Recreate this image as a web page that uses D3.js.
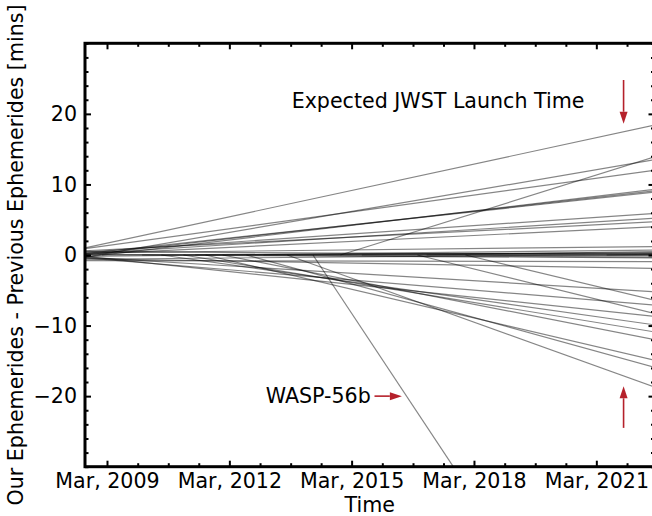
<!DOCTYPE html>
<html>
<head>
<meta charset="utf-8">
<script src="https://cdn.jsdelivr.net/npm/d3@7"></script>
<style>
  html, body { margin: 0; padding: 0; background: #fff; }
  svg { display: block; font-family: "DejaVu Sans", sans-serif; }
</style>
</head>
<body>
<svg id="chart" width="652" height="516"></svg>
<script>
// Time span shown and offset range (minutes)
const xDomain = ["2008-08-16", "2022-08-04"];
const yDomain = [-30, 30];
const endDate = "2022-08-04";

// Each ephemeris comparison: date it starts, offset at start, offset at endDate (mins)
const startDates = [
  "2008-08-16", "2008-08-16", "2008-08-16", "2008-08-16", "2008-08-16",
  "2008-08-16", "2008-08-16", "2008-08-16", "2008-08-16", "2008-08-16",
  "2008-08-16", "2008-08-16", "2008-08-16", "2008-08-16", "2008-08-16",
  "2008-08-16", "2008-08-16", "2008-08-16", "2008-08-16", "2008-08-16",
  "2014-11-20", "2014-03-20", "2016-10-10", "2017-12-15", "2010-07-01",
  "2011-01-15", "2011-08-01", "2012-01-01", "2012-08-01", "2013-08-01",
  "2009-01-15", "2010-01-10", "2011-05-01", "2013-01-01", "2015-06-01",
  "2017-01-01", "2021-06-01"
];
const startMins = [
  1.0, 0.9, -0.3, -0.3, 0.0,
  0.2, 0.4, 0.2, 0.6, 0.1,
  0.3, -0.2, 0.5, 0.1, -0.8,
  -0.5, -0.3, -0.4, -0.2, -0.6,
  0, 0, 0, 0, 0,
  0, 0, 0, 0, 0,
  0, 0, 0, 0, 0,
  0, 0
];
const endMins = [
  18.4, 12.0, 13.5, 9.3, 9.1,
  8.9, 5.9, 5.2, 4.7, 4.0,
  1.2, 0.7, 0.0, -0.3, -0.95,
  -1.9, -5.2, -7.1, -8.7, 0.1,
  13.9, -73, -8.3, -6.4, -9.9,
  -10.9, -14.9, -12.0, -15.9, -18.7,
  0.3, -0.4, 0.2, 0.3, -0.1,
  0.5, 0.1
];

// Axis ticks
const majorTickDates = ["2009-03-01", "2012-03-01", "2015-03-01", "2018-03-01", "2021-03-01"];
const majorTickMins = [-20, -10, 0, 10, 20];
const xLabel = "Time";
const yLabel = "Our Ephemerides - Previous Ephemerides [mins]";

// Annotations
const launchDate = "2021-10-31";
const launchLabel = "Expected JWST Launch Time";
const launchLabelDate = "2013-09-10";
const launchLabelMins = 21.9;
const launchArrowTop = [24.8, 18.6];      // from, to
const launchArrowBottom = [-24.5, -18.6]; // from, to
const waspLabel = "WASP-56b";
const waspLabelDate = "2015-08-20";
const waspArrowDates = ["2015-09-22", "2016-05-24"];
const waspMins = -20;

const parse = d3.timeParse("%Y-%m-%d");
const W = 652, H = 516;
const margin = { left: 85, right: -2.5, top: 43.3, bottom: 49.3 };
const svg = d3.select("#chart");
const fs = 20.6;

const x = d3.scaleTime()
  .domain(xDomain.map(parse))
  .range([margin.left, W - margin.right]);
const y = d3.scaleLinear()
  .domain(yDomain)
  .range([H - margin.bottom, margin.top]);

const red = "#b5212b";
const x0 = x.range()[0], x1 = x.range()[1];
const y0 = y.range()[1], y1 = y.range()[0];

svg.append("defs").append("clipPath").attr("id", "plotclip")
  .append("rect").attr("x", x0).attr("y", y0).attr("width", x1 - x0).attr("height", y1 - y0);

// Ephemeris difference lines
const lines = startDates.map((d, i) => [
  [parse(d), startMins[i]],
  [parse(endDate), endMins[i]]
]);
const lineGen = d3.line().x(d => x(d[0])).y(d => y(d[1]));
svg.append("g").attr("clip-path", "url(#plotclip)")
  .selectAll("path").data(lines).join("path")
  .attr("d", lineGen)
  .attr("fill", "none")
  .attr("stroke", "#000")
  .attr("stroke-opacity", 0.48)
  .attr("stroke-width", 1.2);

// Minor tick positions: every 9 months between the 3-year majors
const majors = majorTickDates.map(parse);
const minorDates = [];
majors.forEach(m => { for (let k = 1; k < 4; k++) minorDates.push(d3.timeMonth.offset(m, 9 * k)); });
const minorX = minorDates.filter(d => d >= x.domain()[0] && d <= x.domain()[1]);
const minorY = d3.range(-30, 30.001, 2).filter(v => majorTickMins.indexOf(v) < 0);

const fmt = d3.timeFormat("%b, %Y");
function styleAxis(g) {
  g.select(".domain").remove();
  g.selectAll(".tick line").attr("stroke", "#000").attr("stroke-width", 2);
  g.selectAll("text").attr("font-size", fs).attr("fill", "#000").attr("font-family", "DejaVu Sans");
}

// Bottom
svg.append("g").attr("transform", `translate(0,${y1})`)
  .call(d3.axisBottom(x).tickValues(majors).tickFormat(fmt).tickSize(-6).tickPadding(7))
  .call(styleAxis);
svg.append("g").attr("transform", `translate(0,${y1})`)
  .call(d3.axisBottom(x).tickValues(minorX).tickFormat("").tickSize(-3.5))
  .call(styleAxis);
// Top
svg.append("g").attr("transform", `translate(0,${y0})`)
  .call(d3.axisTop(x).tickValues(majors).tickFormat("").tickSize(-6))
  .call(styleAxis);
svg.append("g").attr("transform", `translate(0,${y0})`)
  .call(d3.axisTop(x).tickValues(minorX).tickFormat("").tickSize(-3.5))
  .call(styleAxis);
// Left
svg.append("g").attr("transform", `translate(${x0},0)`)
  .call(d3.axisLeft(y).tickValues(majorTickMins).tickSize(-6).tickPadding(8))
  .call(styleAxis);
svg.append("g").attr("transform", `translate(${x0},0)`)
  .call(d3.axisLeft(y).tickValues(minorY).tickFormat("").tickSize(-3.5))
  .call(styleAxis);
// Right
svg.append("g").attr("transform", `translate(${x1},0)`)
  .call(d3.axisRight(y).tickValues(majorTickMins).tickFormat("").tickSize(-6))
  .call(styleAxis);
svg.append("g").attr("transform", `translate(${x1},0)`)
  .call(d3.axisRight(y).tickValues(minorY).tickFormat("").tickSize(-3.5))
  .call(styleAxis);

// Frame
svg.append("rect")
  .attr("x", x0).attr("y", y0).attr("width", x1 - x0).attr("height", y1 - y0)
  .attr("fill", "none").attr("stroke", "#000").attr("stroke-width", 3);

// Axis titles
svg.append("text")
  .attr("x", (x0 + x1) / 2).attr("y", 512)
  .attr("text-anchor", "middle").attr("font-size", fs).text(xLabel);
svg.append("text")
  .attr("transform", `translate(23,${(y0 + y1) / 2}) rotate(-90)`)
  .attr("text-anchor", "middle").attr("font-size", fs).text(yLabel);

// Arrows
function arrow(xa, ya, xb, yb) {
  const ang = Math.atan2(yb - ya, xb - xa);
  const hl = 12, hw = 4;
  const bx = xb - hl * Math.cos(ang), by = yb - hl * Math.sin(ang);
  svg.append("line")
    .attr("x1", xa).attr("y1", ya).attr("x2", bx).attr("y2", by)
    .attr("stroke", red).attr("stroke-width", 1.6);
  const px = -Math.sin(ang) * hw, py = Math.cos(ang) * hw;
  svg.append("path")
    .attr("d", `M${xb},${yb}L${bx + px},${by + py}L${bx - px},${by - py}Z`)
    .attr("fill", red);
}
const lx = x(parse(launchDate));
arrow(lx, y(launchArrowTop[0]), lx, y(launchArrowTop[1]));
arrow(lx, y(launchArrowBottom[0]), lx, y(launchArrowBottom[1]));
arrow(x(parse(waspArrowDates[0])), y(waspMins), x(parse(waspArrowDates[1])), y(waspMins));

svg.append("text")
  .attr("x", x(parse(launchLabelDate))).attr("y", y(launchLabelMins))
  .attr("dy", "0.35em").attr("font-size", fs).text(launchLabel);
svg.append("text")
  .attr("x", x(parse(waspLabelDate))).attr("y", y(waspMins))
  .attr("dy", "0.35em").attr("text-anchor", "end").attr("font-size", fs).text(waspLabel);
</script>
</body>
</html>
